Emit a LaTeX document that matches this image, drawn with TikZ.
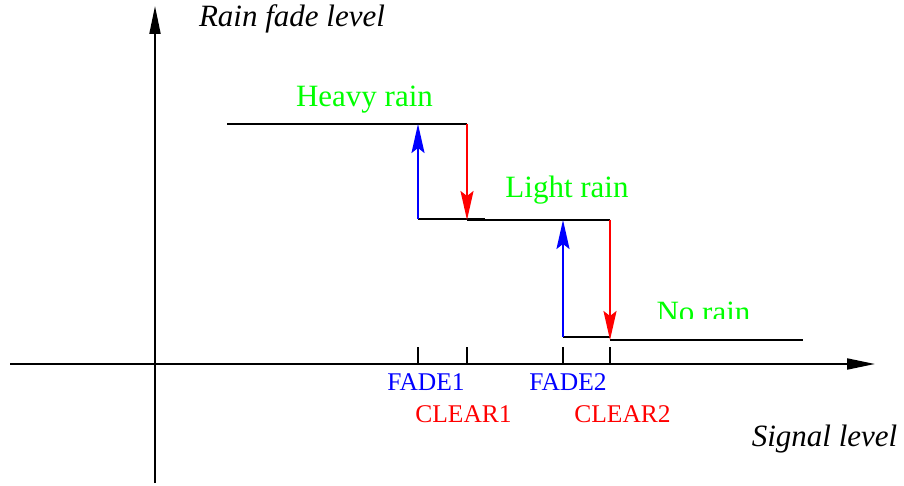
\documentclass[tikz,border=0pt]{standalone}
\usepackage{fontspec}
\setmainfont{Liberation Serif}
\usetikzlibrary{arrows.meta}
\definecolor{raingreen}{RGB}{0,255,0}
\begin{document}
\begin{tikzpicture}[x=1pt,y=-1pt,line width=2pt,
  axis/.style={-{Triangle[length=28pt,width=11pt]}},
  jump/.style={-{Stealth[length=29pt,width=13pt,inset=5pt]}},
  big/.style={inner sep=0pt,anchor=base,font=\fontsize{31}{36}\selectfont},
  small/.style={inner sep=0pt,anchor=base,font=\fontsize{25.5}{30}\selectfont},
  state/.style={big,text=raingreen},
  axislabel/.style={big,font=\fontsize{31}{36}\selectfont\itshape},
  fadelabel/.style={small,text=blue},
  clearlabel/.style={small,text=red}]
\useasboundingbox (0,0) rectangle (904,486);

% axes
\coordinate (ytop) at (155,6);
\coordinate (ybot) at (155,483);
\coordinate (xl) at (10,364);
\coordinate (xr) at (875,364);
\draw[axis] (ybot) -- (ytop);
\draw[axis] (xl) -- (xr);
\node[axislabel] (ylab) at (292,27) {Rain fade level};
\node[axislabel] (xlab) at (824.5,446) {Signal level};

% hysteresis steps
\coordinate (h0) at (227,124);
\coordinate (h1) at (418,124);
\coordinate (h2) at (467,124);
\coordinate (m1) at (418,219);
\coordinate (m2) at (467,220);
\coordinate (m3) at (485,219);
\coordinate (m4) at (563,220);
\coordinate (m5) at (610,220);
\coordinate (l1) at (563,337);
\coordinate (l2) at (610,337);
\coordinate (l3) at (610,340);
\coordinate (l4) at (803,340);

\draw (h0) -- (h2);
\draw (m1) -- (m3);
\draw (m2) -- (m5);
\draw (l1) -- (l2);
\draw (l3) -- (l4);

\draw[blue,jump] (m1) -- (h1);
\draw[red,jump] (h2) -- (m2);
\draw[blue,jump] (l1) -- (m4);
\draw[red,jump] (m5) -- (l3);

% threshold ticks
\foreach \n/\x in {f1/418,c1/467,f2/563,c2/610}{
  \coordinate (\n a) at (\x,347);
  \coordinate (\n b) at (\x,364);
  \draw (\n a) -- (\n b);
}

\node[state] (heavy) at (364.5,107) {Heavy rain};
\node[state] (light) at (567,198) {Light rain};
\begin{scope}
  \clip (600,280) rectangle (800,318);
  \node[state] (none) at (703.5,322) {No rain};
\end{scope}

\node[fadelabel] (fade1) at (426,390) {FADE1};
\node[fadelabel] (fade2) at (568,390) {FADE2};
\node[clearlabel] (clear1) at (463.5,422) {CLEAR1};
\node[clearlabel] (clear2) at (622.5,422) {CLEAR2};
\end{tikzpicture}
\end{document}
